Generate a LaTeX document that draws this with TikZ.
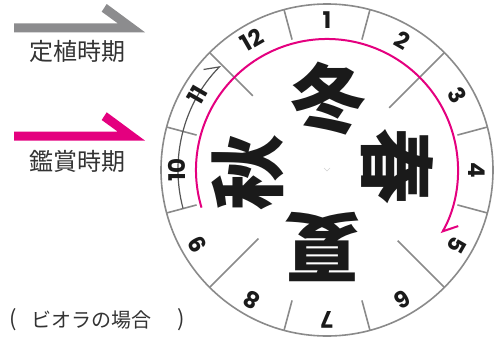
\documentclass[tikz,border=0pt]{standalone}
\usepackage{fontspec}
\newfontfamily\cjk{Noto Sans CJK JP}
\newfontfamily\numfont{Poppins}
\usetikzlibrary{calc,arrows.meta}
\definecolor{ring}{HTML}{8A8A8A}
\definecolor{mag}{HTML}{E4007F}
\definecolor{txt}{HTML}{333333}
\definecolor{dgray}{HTML}{555555}
\definecolor{legray}{HTML}{8C8C8E}
\definecolor{blk}{HTML}{1A1A1A}
\tikzset{
  ringline/.style={draw=ring, line width=1.6pt},
  plantline/.style={draw=dgray, line width=1.2pt},
  magline/.style={draw=mag, line width=2pt},
  legtext/.style={font=\cjk\fontsize{24}{28}\selectfont, text=txt, inner sep=0pt},
  notetext/.style={font=\cjk\fontsize{20}{24}\selectfont, text=txt, inner sep=0pt},
  season/.style={font=\cjk\bfseries\fontsize{76}{80}\selectfont, text=blk, inner sep=0pt},
  num/.style={font=\numfont\bfseries\fontsize{23}{26}\selectfont, text=blk, inner sep=0pt}
}
\begin{document}
\begin{tikzpicture}[x=1pt,y=1pt]
\useasboundingbox (0,0) rectangle (504,-343);
\coordinate (O) at (327,-170);
% legend arrows
\fill[legray] (14,-23.3) -- (117.7,-23.3) -- (101.7,-11.7) -- (106.7,-4) -- (145,-32.3) -- (14,-32.3) -- cycle;
\fill[mag] (14,-131.6) -- (117.7,-131.6) -- (101.7,-120) -- (106.7,-112.3) -- (145,-140.6) -- (14,-140.6) -- cycle;
\node[legtext] (t1) at (77.5,-51.5) {定植時期};
\node[legtext] (t2) at (77.5,-161) {鑑賞時期};
\node[notetext, font=\cjk\fontsize{22}{24}\selectfont] (nl) at (13.5,-320) {(};
\node[notetext] (nt) at (91,-320) {ビオラの場合};
\node[notetext, font=\cjk\fontsize{22}{24}\selectfont] (nr) at (181.5,-320) {)};
% dial
\draw[ringline] (O) circle (166);
\foreach \a in {105,75,15,-15,-75,-105,-165,165}
  \draw[ringline] ($(O)+(\a:135)$) -- ($(O)+(\a:166)$);
\draw[ringline] ($(O)+(135:105)$) -- ($(O)+(135:166)$);
\draw[ringline] ($(O)+(45:88)$) -- ($(O)+(45:166)$);
\draw[ringline] ($(O)+(-45:100)$) -- ($(O)+(-45:166)$);
\draw[ringline] ($(O)+(-135:97)$) -- ($(O)+(-135:166)$);
% planting period arc
\draw[plantline, -{Straight Barb[left,length=13pt,width=19pt]}] ($(O)+(195:149)$) arc[start angle=195, end angle=135.5, radius=149];
% viewing period arc
\draw[magline, -{Straight Barb[left,length=12pt,width=22pt]}] ($(O)+(196.7:131)$) arc[start angle=196.7, end angle=-29, radius=131];
% center mark
\draw[gray!35, line width=0.4pt] (324,-168) -- (327,-171) -- (330,-168);
% month numbers
\foreach \m in {1,...,12} {
  \pgfmathsetmacro\ang{90-30*(\m-1)}
  \node[num, rotate=\ang-90] (m\m) at ($(O)+(\ang:150)$) {\m};
}
% seasons
\node[season] (win) at (328,-99) {冬};
\node[season, rotate=-90] (spr) at (397,-166) {春};
\node[season, rotate=180] (sum) at (322,-247) {夏};
\node[season, rotate=90] (aut) at (248,-172) {秋};
\end{tikzpicture}
\end{document}
